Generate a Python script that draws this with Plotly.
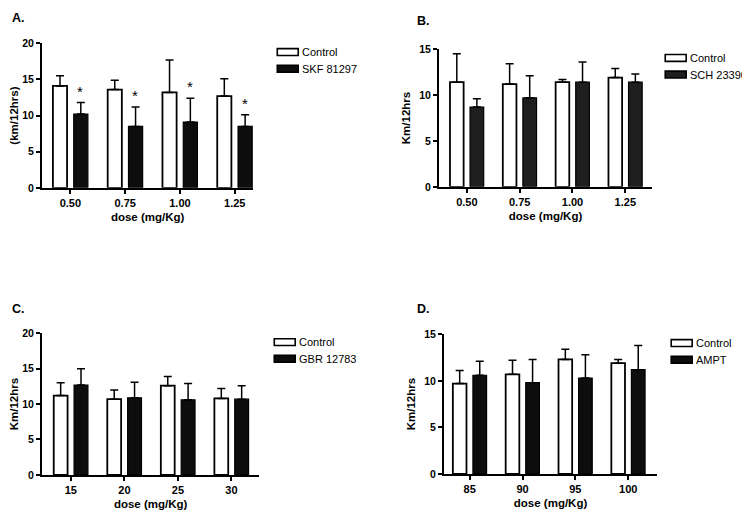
import plotly.graph_objects as go

# ---- data ----
doses_A = ["0.50", "0.75", "1.00", "1.25"]
ctrl_A = [14.1, 13.6, 13.2, 12.7]
ctrl_A_err = [1.4, 1.3, 4.5, 2.4]
drug_A = [10.2, 8.5, 9.1, 8.5]
drug_A_err = [1.6, 2.7, 3.3, 1.6]
drug_A_name = "SKF 81297"

doses_B = ["0.50", "0.75", "1.00", "1.25"]
ctrl_B = [11.4, 11.2, 11.4, 11.9]
ctrl_B_err = [3.1, 2.2, 0.3, 1.0]
drug_B = [8.7, 9.7, 11.4, 11.4]
drug_B_err = [0.9, 2.4, 2.2, 0.9]
drug_B_name = "SCH 23390"

doses_C = ["15", "20", "25", "30"]
ctrl_C = [11.2, 10.7, 12.6, 10.8]
ctrl_C_err = [1.8, 1.3, 1.3, 1.4]
drug_C = [12.7, 10.9, 10.6, 10.7]
drug_C_err = [2.3, 2.2, 2.3, 1.9]
drug_C_name = "GBR 12783"

doses_D = ["85", "90", "95", "100"]
ctrl_D = [9.7, 10.7, 12.3, 11.9]
ctrl_D_err = [1.4, 1.5, 1.1, 0.4]
drug_D = [10.6, 9.8, 10.3, 11.2]
drug_D_err = [1.5, 2.5, 2.5, 2.6]
drug_D_name = "AMPT"

FONT = "Liberation Sans, Arial, sans-serif"
# page body has an 8px margin: the figure is drawn at (8, 8) in the window
OFF = 8
W, H = 750 - OFF, 518 - OFF


def px_x(v):
    return (max(v, OFF) - OFF) / W


def px_y(v):
    return 1 - (max(v, OFF) - OFF) / H


panels = [
    dict(lab="A.", d=doses_A, c=ctrl_A, ce=ctrl_A_err, g=drug_A, ge=drug_A_err, n=drug_A_name,
         yt="(km/12hrs)", ymax=20, x0=40, x1=252, yb=186, ytop=38, xr=[-0.52, 3.34], col="#0d0d0d",
         labpos=(3, 12), leg=(276, 47)),
    dict(lab="B.", d=doses_B, c=ctrl_B, ce=ctrl_B_err, g=drug_B, ge=drug_B_err, n=drug_B_name,
         yt="Km/12hrs", ymax=15, x0=438, x1=652, yb=185, ytop=44, xr=[-0.53, 3.51], col="#1e1e1e",
         labpos=(414, 15), leg=(665, 53)),
    dict(lab="C.", d=doses_C, c=ctrl_C, ce=ctrl_C_err, g=drug_C, ge=drug_C_err, n=drug_C_name,
         yt="Km/12hrs", ymax=20, x0=40, x1=258, yb=480, ytop=335, xr=[-0.54, 3.52], col="#0d0d0d",
         labpos=(5, 310), leg=(273, 344)),
    dict(lab="D.", d=doses_D, c=ctrl_D, ce=ctrl_D_err, g=drug_D, ge=drug_D_err, n=drug_D_name,
         yt="Km/12hrs", ymax=15, x0=443, x1=657, yb=479, ytop=336, xr=[-0.49, 3.55], col="#0d0d0d",
         labpos=(414, 310), leg=(671, 345)),
]

fig = go.Figure()
layout = dict(
    width=W, height=H, margin=dict(l=0, r=0, t=0, b=0),
    paper_bgcolor="white", plot_bgcolor="white",
    barmode="group", bargap=0.24, bargroupgap=0.32,
    showlegend=False,
    font=dict(family=FONT, color="black"),
)
shapes = []
annotations = []

for i, p in enumerate(panels):
    k = "" if i == 0 else str(i + 1)
    xa, ya = "x" + k, "y" + k
    fig.add_trace(go.Bar(
        x=p["d"], y=p["c"], name="Control", xaxis=xa, yaxis=ya,
        marker=dict(color="white", line=dict(color="black", width=1.8)),
        error_y=dict(type="data", array=p["ce"], arrayminus=[0] * 4, symmetric=False,
                     color="black", thickness=1.5, width=4),
    ))
    fig.add_trace(go.Bar(
        x=p["d"], y=p["g"], name=p["n"], xaxis=xa, yaxis=ya,
        marker=dict(color=p["col"], line=dict(color="black", width=1.2)),
        error_y=dict(type="data", array=p["ge"], arrayminus=[0] * 4, symmetric=False,
                     color="black", thickness=1.5, width=4),
    ))
    layout["xaxis" + k] = dict(
        domain=[px_x(p["x0"]), px_x(p["x1"])], anchor=ya, type="category",
        range=p["xr"], showline=True, linecolor="black", linewidth=1.8,
        ticks="outside", ticklen=4, tickwidth=1.5, tickcolor="black",
        showgrid=False, zeroline=False,
        tickfont=dict(family=FONT, size=11, color="black", weight="bold"),
        title=dict(text="dose (mg/Kg)", standoff=5,
                   font=dict(family=FONT, size=11.5, color="black", weight="bold")),
    )
    layout["yaxis" + k] = dict(
        domain=[px_y(p["yb"]), px_y(p["ytop"])], anchor=xa,
        range=[0, p["ymax"]], dtick=5, showline=True, linecolor="black", linewidth=1.8,
        ticks="outside", ticklen=4, tickwidth=1.5, tickcolor="black",
        showgrid=False, zeroline=False,
        tickfont=dict(family=FONT, size=10.5, color="black", weight="bold"),
        title=dict(text=p["yt"], standoff=6,
                   font=dict(family=FONT, size=11.5, color="black", weight="bold")),
    )
    # panel label
    annotations.append(dict(
        text="<b>" + p["lab"] + "</b>", x=px_x(p["labpos"][0]), y=px_y(p["labpos"][1]),
        xref="paper", yref="paper", xanchor="left", yanchor="middle", showarrow=False,
        font=dict(family=FONT, size=12.5, color="black"),
    ))
    # legend
    lx, ly = p["leg"]
    for j, (nm, fill) in enumerate([("Control", "white"), (p["n"], p["col"])]):
        yc = ly + j * 17
        shapes.append(dict(
            type="rect", xref="paper", yref="paper",
            x0=px_x(lx), x1=px_x(lx + 21), y0=px_y(yc + 3.5), y1=px_y(yc - 3.5),
            fillcolor=fill, line=dict(color="black", width=1.6),
        ))
        annotations.append(dict(
            text=nm, x=px_x(lx + 23), y=px_y(yc), xref="paper", yref="paper",
            xanchor="left", yanchor="middle", showarrow=False,
            font=dict(family=FONT, size=11, color="black"),
        ))

# significance asterisks (panel A, drug bars) -- category index used as x
for idx, (v, e) in enumerate(zip(drug_A, drug_A_err)):
    annotations.append(dict(
        text="*", x=idx, y=v + e, xref="x", yref="y", xshift=10, yshift=1,
        xanchor="center", yanchor="bottom", showarrow=False,
        font=dict(family=FONT, size=15, color="black"),
    ))

layout["shapes"] = shapes
layout["annotations"] = annotations
fig.update_layout(**layout)
fig.write_html("out.html")
